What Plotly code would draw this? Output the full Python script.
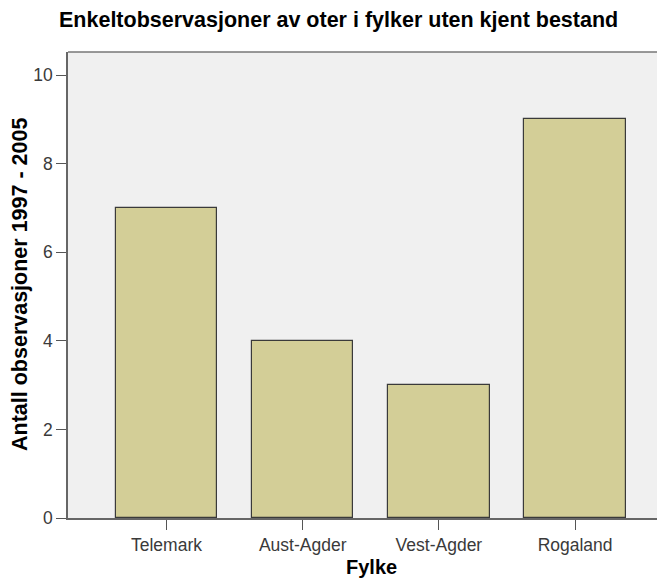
import plotly.graph_objects as go

categories = ["Telemark", "Aust-Agder", "Vest-Agder", "Rogaland"]
values = [7, 4, 3, 9]
y_ticks = [0, 2, 4, 6, 8, 10]

font = "Arial, Liberation Sans, sans-serif"

# page body has an 8px margin, so the figure is drawn 8px smaller
W, H = 657, 570
L, T, B = 60, 44, 60
PW, PH = W - L, H - T - B

fig = go.Figure()
fig.add_trace(go.Bar(
    x=list(range(len(categories))), y=values,
    width=0.745,
    marker=dict(color="#d3ce97", line=dict(color="#3a3a3a", width=1.2)),
    hoverinfo="skip",
))

fig.update_layout(
    width=W, height=H,
    margin=dict(l=L, r=0, t=T, b=B),
    paper_bgcolor="white", plot_bgcolor="#f0f0f0",
    showlegend=False,
    bargap=0,
    font=dict(family=font),
)

fig.update_xaxes(
    range=[-0.723, 3.66],
    tickvals=list(range(len(categories))), ticktext=categories,
    ticks="outside", ticklen=10, tickcolor="#555", tickwidth=1,
    showline=True, linecolor="#666", linewidth=1.5,
    showgrid=False, zeroline=False,
    tickfont=dict(family=font, size=17.5, color="#3a3a3a"),
)
fig.update_yaxes(
    range=[0, 10.52],
    tickvals=y_ticks,
    ticks="outside", ticklen=10, tickcolor="#555", tickwidth=1,
    showline=True, linecolor="#666", linewidth=1.5,
    showgrid=False, zeroline=False,
    tickfont=dict(family=font, size=17.5, color="#3a3a3a"),
)

# top frame line
fig.add_shape(type="line", xref="paper", yref="paper", x0=0, x1=1, y0=1, y1=1,
              line=dict(color="#777", width=1.5))

# chart title
fig.add_annotation(text="<b>Enkeltobservasjoner av oter i fylker uten kjent bestand</b>",
                   xref="paper", yref="paper",
                   x=(330 - L) / PW, y=(H - B - 12) / PH,
                   xanchor="center", yanchor="middle", showarrow=False,
                   font=dict(family=font, size=21.5, color="black"))

# y-axis title
fig.add_annotation(text="<b>Antall observasjoner 1997 - 2005</b>",
                   xref="paper", yref="paper",
                   x=(12 - L) / PW, y=0.5, textangle=-90,
                   xanchor="center", yanchor="middle", showarrow=False,
                   font=dict(family=font, size=21.5, color="black"))

# x-axis title
fig.add_annotation(text="<b>Fylke</b>", xref="paper", yref="paper",
                   x=(363 - L) / PW, y=(H - B - 559) / PH,
                   xanchor="center", yanchor="middle", showarrow=False,
                   font=dict(family=font, size=20, color="black"))

fig.write_html("out.html")
